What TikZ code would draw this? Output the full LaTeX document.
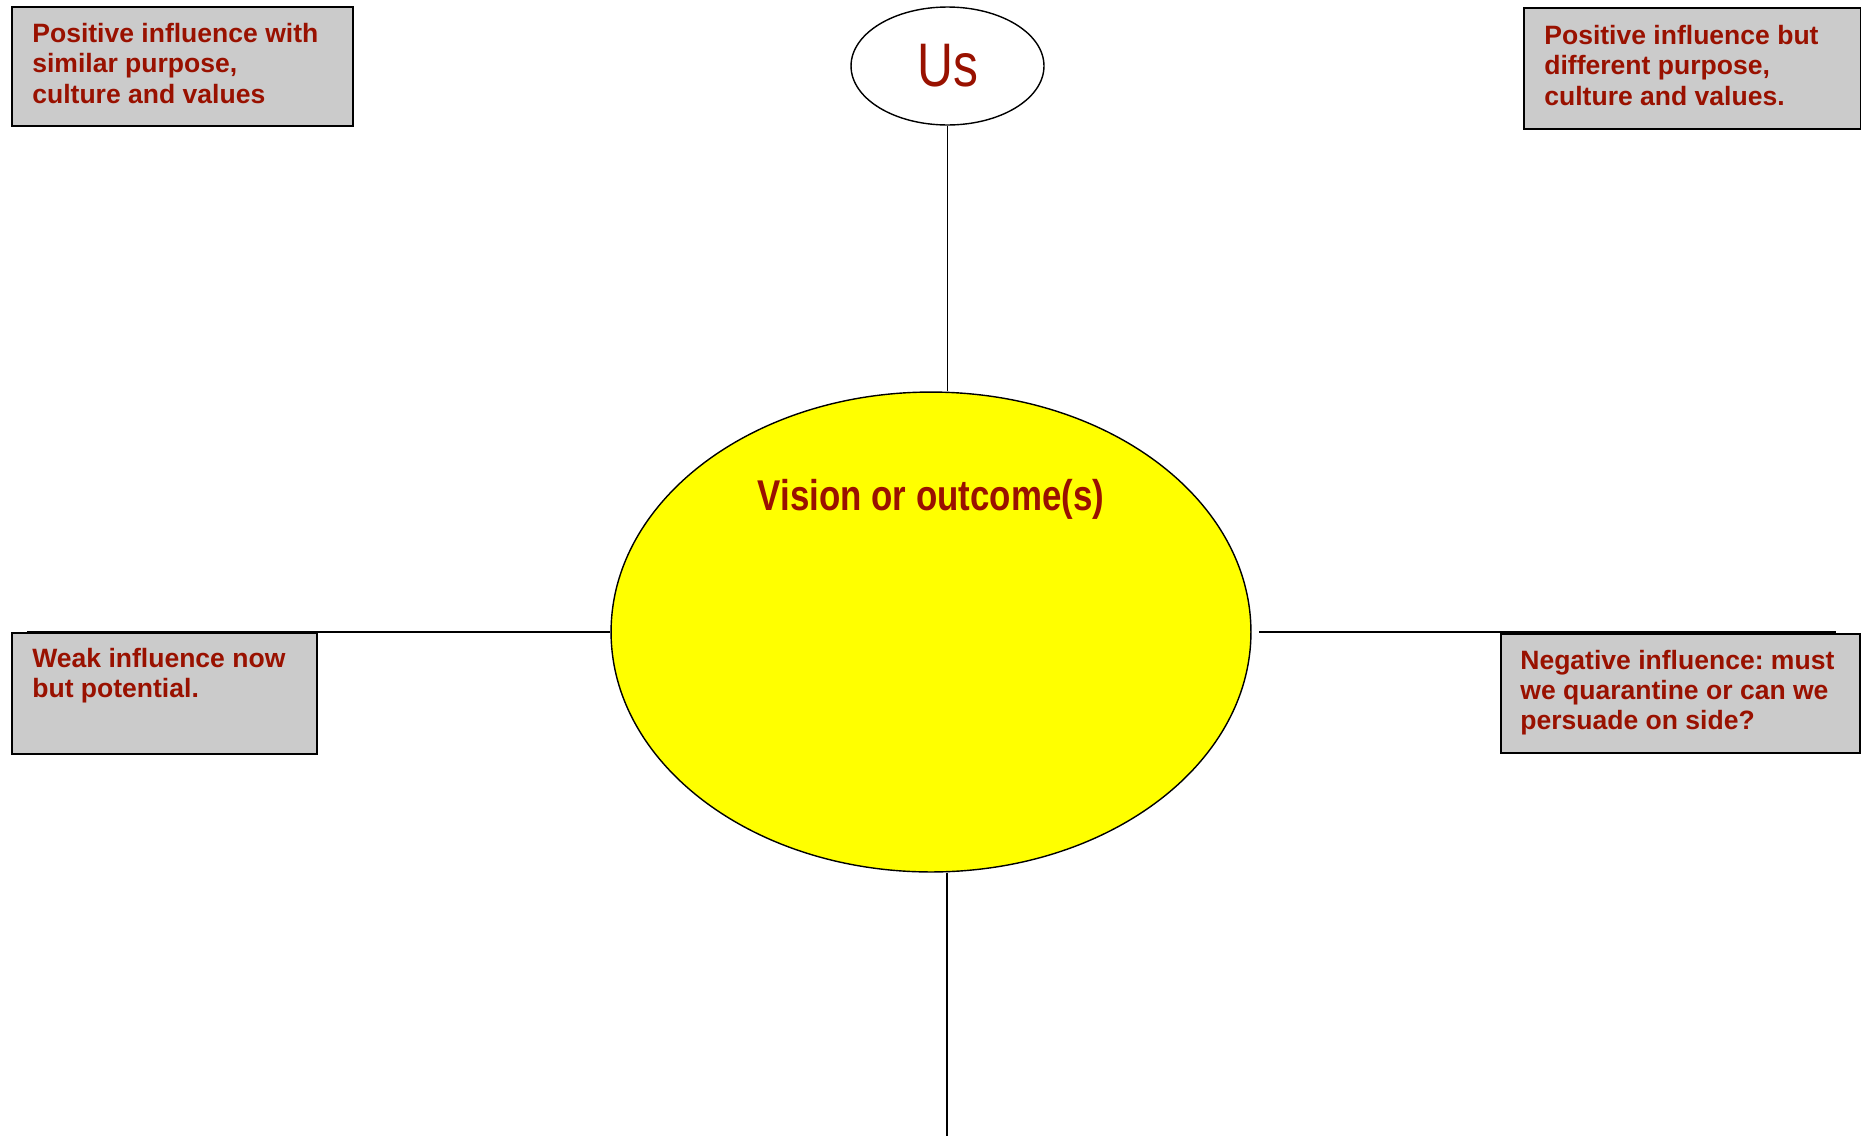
\documentclass[tikz,border=0pt]{standalone}
\usepackage{fontspec}
\setmainfont{Liberation Sans}
\newfontfamily\narrowfont[FakeStretch=0.81]{Liberation Sans}
\usepackage{xcolor}
\usetikzlibrary{positioning,shapes.geometric}
\definecolor{InkRed}{RGB}{153,17,0}
\definecolor{BoxGray}{RGB}{203,203,203}
\definecolor{SunYellow}{RGB}{255,255,0}
\frenchspacing

\begin{document}
\begin{tikzpicture}[
  x=0.02cm, y=-0.02cm,
  node distance=0.34cm and 0.42cm,
  infobox/.style={draw, line width=0.9pt, fill=BoxGray, inner sep=0pt, anchor=north west},
  infotext/.style={text=InkRed, font=\bfseries\fontsize{15.1}{17.2}\selectfont, align=left, inner sep=0pt},
  oval/.style={ellipse, draw, line width=0.8pt, inner sep=0pt},
  link/.style={line width=0.75pt}
]
\useasboundingbox (0,0) rectangle (1861,1136);

% corner boxes
\node[infobox, minimum width=6.82cm, minimum height=2.38cm] (simbox) at (11,6) {};
\node[infotext, below right=of simbox.north west] (simtxt) {Positive influence with\\similar purpose,\\culture and values};
\node[infobox, minimum width=6.74cm, minimum height=2.42cm] (difbox) at (1523,7) {};
\node[infotext, below right=0.36cm and 0.42cm of difbox.north west] (diftxt) {Positive influence but\\different purpose,\\culture and values.};
\node[infobox, minimum width=6.1cm, minimum height=2.42cm] (weakbox) at (11,632) {};
\node[infotext, below right=0.32cm and 0.42cm of weakbox.north west] (weaktxt) {Weak influence now\\but potential.};
\node[infobox, minimum width=7.18cm, minimum height=2.38cm] (negbox) at (1500,633) {};
\node[infotext, below right=0.33cm and 0.4cm of negbox.north west] (negtxt) {Negative influence: must\\we quarantine or can we\\persuade on side?};

% the two ovals
\node[oval, fill=SunYellow, minimum width=12.8cm, minimum height=9.6cm] (vision) at (931,632) {};
\node[oval, fill=white, minimum width=3.86cm, minimum height=2.36cm, text=InkRed,
      font=\narrowfont\fontsize{35}{35}\selectfont] (us) at (947.5,66) {\raisebox{-3pt}{Us}};
\node[text=InkRed, font=\narrowfont\bfseries\fontsize{24.5}{26}\selectfont] (visiontxt) at (931,499) {Vision or outcome(s)};

% spokes
\coordinate (foot) at (947,1136);
\coordinate (wstart) at (27,632);
\coordinate (estart) at (1259,632);
\coordinate (eend) at (1836,632);
\draw[link] (us.south) -- (us.south |- vision.north);
\draw[link] (foot |- vision.south) -- (foot);
\draw[link] (wstart) -- (vision.west);
\draw[link] (estart) -- (eend);
\end{tikzpicture}
\end{document}
